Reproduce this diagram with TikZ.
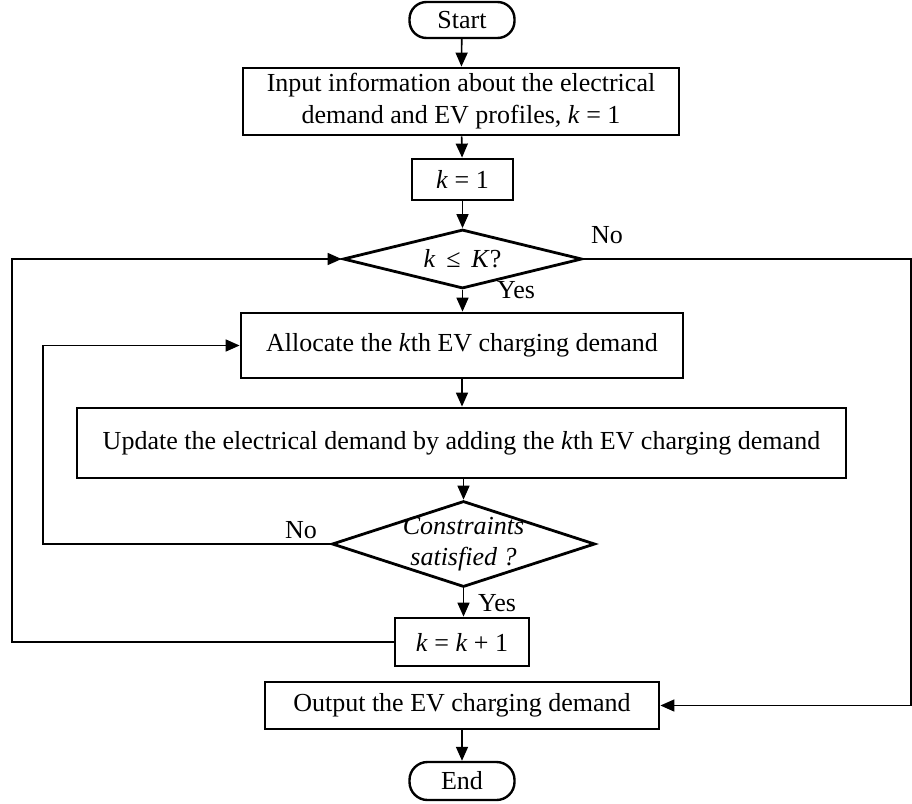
\documentclass[tikz,border=0pt]{standalone}
\usepackage{fontspec}
\setmainfont{Liberation Serif}
\usetikzlibrary{shapes.geometric,arrows.meta}
\begin{document}
\begin{tikzpicture}[x=1pt,y=-1pt,
  every node/.style={font=\fontsize{26}{32}\selectfont},
  procbox/.style={draw,line width=2.8pt,rectangle,inner sep=0pt,align=center},
  term/.style={draw,line width=2.4pt,rectangle,rounded corners=17pt,inner sep=0pt},
  decide/.style={draw,line width=2.8pt,diamond,inner sep=0pt,align=center},
  conn/.style={line width=1.6pt,-{Triangle[length=14pt,width=12pt]}},
  lbl/.style={inner sep=0pt}]
\useasboundingbox (0,0) rectangle (912,803);
\node[term,minimum width=105,minimum height=36] (start) at (462,20) {Start};
\node[procbox,minimum width=436,minimum height=67] (input) at (461,101.5) {Input information about the electrical\\demand and EV profiles, \textit{k} = 1};
\node[procbox,minimum width=101,minimum height=41] (k1) at (462.5,179.5) {\textit{k} = 1};
\node[decide,aspect=4,minimum width=239,minimum height=59] (d1) at (462.5,259) {\textit{k}\, ≤\, \textit{K}?};
\node[procbox,minimum width=442,minimum height=65] (alloc) at (462,345.5) {Allocate the \textit{k}th EV charging demand};
\node[procbox,minimum width=769,minimum height=70] (update) at (461.5,443) {Update the electrical demand by adding the \textit{k}th EV charging demand};
\node[decide,aspect=3.1,inner sep=-6pt,minimum width=263,minimum height=86,font=\fontsize{26}{31}\selectfont\itshape] (d2) at (463.5,544) {Constraints\\satisfied ?};
\node[procbox,minimum width=134,minimum height=48] (kk) at (462,642) {\textit{k} = \textit{k} + 1};
\node[procbox,minimum width=394,minimum height=47] (output) at (462,705.5) {Output the EV charging demand};
\node[term,minimum width=105,minimum height=38,rounded corners=18pt] (end) at (462,781) {End};

\coordinate (L1) at (12,259);
\coordinate (L2) at (43,544);
\coordinate (R1) at (911,259);

\draw[conn] (start) -- (input);
\draw[conn] (input) -- (k1);
\draw[conn] (k1) -- (d1);
\draw[conn] (d1.south) -- (d1.south |- alloc.north);
\draw[conn] (alloc.south) -- (alloc.south |- update.north);
\draw[conn] (update.south -| d2.north) -- (d2.north);
\draw[conn] (d2.south) -- (d2.south |- kk.north);
\draw[conn] (end |- output.south) -- (end);
\draw[conn] (kk.west) -| (L1) -- (d1.west);
\draw[conn] (d2.west) -| (L2) |- (alloc.west);
\draw[conn] (d1.east) -- (R1) |- (output.east);

\node[lbl] (no1) at (607,235) {No};
\node[lbl] (yes1) at (516,290) {Yes};
\node[lbl] (no2) at (301,530) {No};
\node[lbl] (yes2) at (497,603) {Yes};
\end{tikzpicture}
\end{document}
